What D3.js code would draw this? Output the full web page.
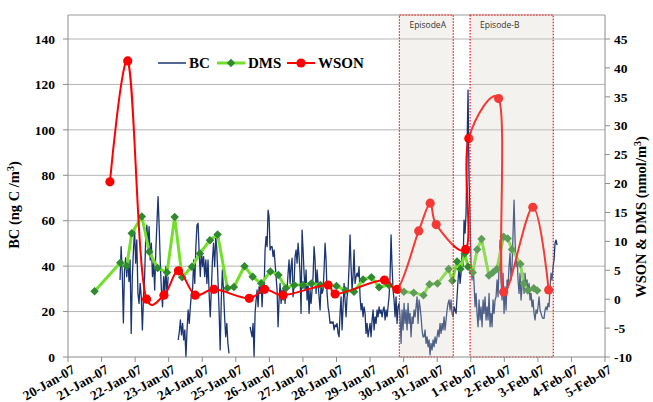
<!DOCTYPE html>
<html><head><meta charset="utf-8">
<script src="https://cdn.jsdelivr.net/npm/d3@7/dist/d3.min.js"></script>
<style>body{margin:0;background:#fff}svg{display:block}</style>
</head><body><svg id="c" width="653" height="402"></svg>
<script>
// ---------- DATA ----------
// time axis: hours since 20-Jan-07 00:00
const dateLabels = ["20-Jan-07","21-Jan-07","22-Jan-07","23-Jan-07","24-Jan-07","25-Jan-07","26-Jan-07","27-Jan-07","28-Jan-07","29-Jan-07","30-Jan-07","31-Jan-07","1-Feb-07","2-Feb-07","3-Feb-07","4-Feb-07","5-Feb-07"];
const leftTicks = [0,20,40,60,80,100,120,140];
const rightTicks = [-10,-5,0,5,10,15,20,25,30,35,40,45];
const seriesNames = ["BC","DMS","WSON"];

// BC (ng C/m3): segments with start hour, step (hours) and readings
const bcSeg1Start = 37.2, bcSeg1Step = 0.80;
const bcSeg1 = [33.9,48.6,37.0,15.0,38.3,43.6,35.4,44.2,33.2,42.7,10.4,35.4,47.1,55.9,41.3,51.5,28.0,23.6,32.4,26.5,11.9,26.5,35.4,53.0,58.1,48.6,57.4,42.7,50.1,35.4,41.3,29.5,47.1,58.9,70.6,57.4,41.3,29.5,22.1,35.4,28.0,39.8,26.5,35.4];
const bcSeg2Start = 78.8, bcSeg2Step = 0.79;
const bcSeg2 = [7.5,11.1,16.3,9.7,14.8,7.5,11.9,0.1,11.9,20.7,14.8,22.1,28.0,29.5,42.7,32.4,48.6,58.1,58.9,45.7,35.4,47.1,39.8,44.2,35.4,42.7,32.4,42.7,28.0,17.7,29.5,42.7,50.1,39.8,53.0,47.1,33.9,20.7,3.1,25.1,38.3,29.5,17.7,8.9,14.8,6.0,1.6];
const bcSeg3Start = 130.2, bcSeg3Step = 0.715;
const bcSeg3 = [
13.3,11.1,8.9,14.8,0.1,19.2,25.1,29.5,22.1,31.0,28.0,33.9,22.1,32.4,29.5,47.1,53.0,48.6,64.7,61.8,
47.1,48.6,48.6,44.2,47.1,41.3,35.4,29.5,13.3,25.1,32.4,23.6,29.5,25.1,32.4,23.6,31.0,29.5,36.9,42.7,
32.4,39.8,43.5,26.5,32.4,44.2,47.1,41.3,50.1,44.2,36.9,19.2,55.9,47.1,36.9,29.5,38.3,25.1,32.4,19.2,
29.5,23.6,29.5,35.4,48.6,42.7,28.0,38.3,32.4,26.5,20.7,32.4,28.0,29.5,38.3,50.1,42.7,28.0,22.1,19.2,
14.8,15.5,14.8,15.5,11.9,14.1,13.3,14.8,10.4,8.9,19.2,26.5,11.9,22.1,32.4,25.1,17.7,26.5,29.5,39.8,
53.7,39.8,29.5,35.4,47.1,32.4,35.4,36.9,35.4,39.8,26.5,20.7,23.6,17.7,22.1,19.2,10.4,14.8,8.9,11.9,
14.8,8.9,16.3,20.7,11.9,17.7,14.8,20.7,17.7,22.1,19.2,20.7,17.7,20.7,22.1,16.3,20.7,17.7,22.1,26.5,
35.4,53.7,39.8,29.5,25.1,17.7,26.5,14.8,22.1,23.6,17.7,6.0,20.7,11.9,23.6,14.8,20.7,11.9,23.6,14.8,
19.2,8.9,17.7,14.8,20.7,17.7,22.1,26.5,14.8,25.1,22.1,17.7,11.9,8.9,8.9,11.9,6.0,8.9,4.5,7.5,
0.9,6.0,3.1,7.5,4.5,8.9,6.0,8.9,11.9,8.9,14.8,10.4,14.8,11.9,17.7,11.9,16.3,20.7,23.6,25.1,
20.7,25.1,19.2,17.7,22.1,20.7,19.2,26.5,33.9,39.8,32.4,36.9,45.7,39.8,60.3,54.5,63.3,92.6,117.5,77.9,
63.3,41.3,33.9,39.8,32.4,22.1,28.0,19.2,13.3,25.1,16.3,22.1,13.3,25.1,19.2,26.5,16.3,22.1,16.3,28.0,
13.3,19.2,13.3,25.1,19.2,25.1,26.5,33.9,26.5,39.8,51.5,33.9,25.1,36.9,19.2,31.0,20.7,33.9,31.0,39.8,
45.7,33.9,39.8,54.5,69.1,51.5,39.8,45.7,33.9,28.0,36.9,25.1,31.0,36.9,28.0,36.9,31.0,33.9,28.0,32.4,
25.1,28.0,22.1,25.1,19.2,16.3,20.7,19.2,22.1,26.5,20.7,19.2,17.7,17.0,17.0,20.7,22.1,20.7,23.6,22.1,
31.0,36.9,33.9,39.8,42.7,50.1,51.5,49.3];

// DMS (nmol/m3)
const dmsHours = [19,37.4,42,45.6,52.8,58.1,64.1,70.8,76.3,81.6,88.6,94.3,101.5,107,114,118.6,126.2,132,138.2,144.7,150.5,155.8,161.8,168,174,180.5,192,198.5,204.5,211,217,222.5,229.4,240.2,247.2,254.2,258.5,264.2,272.2,274.8,278.2,280.6,283.7,286.1,289.4,292.6,295.7,301,303.8,306.7,311.5,314.4,317.5,323.5,325.9,328.8,333.1,335.5];
const dmsValues = [1.37,6.3,5.7,11.4,14.3,8.2,5.4,4.6,14.2,3.8,5.6,7.9,10.2,11.2,1.9,2.1,5.7,3.9,2.7,4.8,4.2,1.9,2.45,2.45,2.7,2.45,2.3,1.5,1.3,3.4,3.8,2.05,2.45,1.3,1.1,0.7,2.6,2.7,5.2,3.2,6.5,5.2,7.9,5.6,4.6,8.6,10.4,4.1,4.6,5.2,10.8,10.5,8.6,6.1,2.7,1.5,1.9,1.5];

// WSON (nmol/m3)
const wsonHours = [30,42.7,56.2,68.6,79,91,104.4,129.6,140.6,153.8,186,191,226.3,235.4,250.8,259,263.3,284.4,286.6,307.9,311.5,332.4,343.7];
const wsonValues = [20.3,41.2,0.0,0.7,4.9,0.7,1.7,0.15,1.7,0.7,2.45,0.9,3.3,1.7,11.8,16.6,12.9,8.6,27.8,34.7,1.24,15.9,1.6];

// Episodes (hours)
const episodeLabels = ["EpisodeA","Episode-B"];
const episodeStart = [237, 287.5];
const episodeEnd = [275.5, 347];

// ---------- CHART ----------
const svg = d3.select("#c");
const L = 68, R = 605, T = 15, B = 357;
const x = d3.scaleLinear().domain([0, 384]).range([L, R]);
const yL = d3.scaleLinear().domain([0, 140]).range([B, 39]);
const yR = d3.scaleLinear().domain([-10, 45]).range([B, 39]);
const serif = "'Liberation Serif','Times New Roman',serif";

// gridlines
svg.append("g").selectAll("line").data(leftTicks.slice(1)).join("line")
  .attr("x1", L).attr("x2", R).attr("y1", d => yL(d)).attr("y2", d => yL(d))
  .attr("stroke", "#b3b3b3").attr("stroke-width", 1);
// top border
svg.append("line").attr("x1", L).attr("x2", R).attr("y1", T).attr("y2", T)
  .attr("stroke", "#9a9a9a").attr("stroke-width", 1);

// BC
const bcSegs = [[bcSeg1Start,bcSeg1Step,bcSeg1],[bcSeg2Start,bcSeg2Step,bcSeg2],[bcSeg3Start,bcSeg3Step,bcSeg3]];
const bcLine = d3.line().x(d => x(d[0])).y(d => yL(d[1]));
bcSegs.forEach(([s, st, vals]) => {
  const pts = vals.map((v, i) => [s + i * st, v]);
  svg.append("path").attr("d", bcLine(pts)).attr("fill", "none")
    .attr("stroke", "#1b3572").attr("stroke-width", 1.3).attr("stroke-linejoin", "round");
});

// DMS
const dms = dmsHours.map((h, i) => [h, dmsValues[i]]);
svg.append("path").attr("d", d3.line().x(d => x(d[0])).y(d => yR(d[1]))(dms))
  .attr("fill", "none").attr("stroke", "#72e02a").attr("stroke-width", 3).attr("stroke-linejoin", "round");
const diamond = d3.symbol().type(d3.symbolSquare).size(36);
svg.append("g").selectAll("path").data(dms).join("path")
  .attr("d", diamond).attr("transform", d => `translate(${x(d[0])},${yR(d[1])}) rotate(45)`)
  .attr("fill", "#2f8a2f");

// WSON
const wson = wsonHours.map((h, i) => [h, wsonValues[i]]);
svg.append("path").attr("d", d3.line().curve(d3.curveCatmullRom.alpha(0.25)).x(d => x(d[0])).y(d => yR(d[1]))(wson))
  .attr("fill", "none").attr("stroke", "#ff0000").attr("stroke-width", 2);
svg.append("g").selectAll("circle").data(wson).join("circle")
  .attr("cx", d => x(d[0])).attr("cy", d => yR(d[1])).attr("r", 4.6).attr("fill", "#ff0000");

// Episode overlays
episodeLabels.forEach((lab, i) => {
  const x0 = x(episodeStart[i]), x1 = x(episodeEnd[i]);
  svg.append("rect").attr("x", x0).attr("y", T).attr("width", x1 - x0).attr("height", B - T)
    .attr("fill", "rgb(214,208,194)").attr("fill-opacity", 0.28);
  svg.append("rect").attr("x", x0).attr("y", T).attr("width", x1 - x0).attr("height", B - T)
    .attr("fill", "none").attr("stroke", "#ff1010").attr("stroke-width", 1.2).attr("stroke-dasharray", "1.5,1.5");
  svg.append("text").attr("x", x0 + 10).attr("y", T + 12.5).text(lab)
    .attr("font-family", "'Open Sans','Liberation Sans',sans-serif").attr("font-size", 8.5).attr("fill", "#333");
});

// axes lines
svg.append("line").attr("x1", L).attr("x2", L).attr("y1", T).attr("y2", B).attr("stroke", "#8c8c8c");
svg.append("line").attr("x1", R).attr("x2", R).attr("y1", T).attr("y2", B).attr("stroke", "#8c8c8c");
svg.append("line").attr("x1", L).attr("x2", R).attr("y1", B).attr("y2", B).attr("stroke", "#8c8c8c");

// left ticks
const gl = svg.append("g");
gl.selectAll("line").data(leftTicks).join("line")
  .attr("x1", L - 5).attr("x2", L).attr("y1", d => yL(d)).attr("y2", d => yL(d)).attr("stroke", "#8c8c8c");
gl.selectAll("text").data(leftTicks).join("text")
  .attr("x", 55).attr("y", d => yL(d)).attr("dy", "0.35em").attr("text-anchor", "end")
  .attr("font-family", serif).attr("font-weight", "bold").attr("font-size", 13.5).text(d => d);

// right ticks
const gr = svg.append("g");
gr.selectAll("line").data(rightTicks).join("line")
  .attr("x1", R).attr("x2", R + 5).attr("y1", d => yR(d)).attr("y2", d => yR(d)).attr("stroke", "#8c8c8c");
gr.selectAll("text").data(rightTicks).join("text")
  .attr("x", 614).attr("y", d => yR(d)).attr("dy", "0.35em").attr("text-anchor", "start")
  .attr("font-family", serif).attr("font-weight", "bold").attr("font-size", 13.5).text(d => d);

// x ticks
const gx = svg.append("g");
gx.selectAll("line").data(dateLabels).join("line")
  .attr("x1", (d, i) => x(i * 24)).attr("x2", (d, i) => x(i * 24))
  .attr("y1", B).attr("y2", B + 5).attr("stroke", "#8c8c8c");
gx.selectAll("text").data(dateLabels).join("text")
  .attr("transform", (d, i) => `translate(${x(i * 24) + 3},${B + 7}) rotate(-30)`)
  .attr("text-anchor", "end").attr("dy", "0.7em")
  .attr("font-family", serif).attr("font-weight", "bold").attr("font-size", 13.5).text(d => d);

// axis titles
const tl = svg.append("text").attr("transform", "translate(19,205) rotate(-90)")
  .attr("text-anchor", "middle").attr("font-family", serif).attr("font-weight", "bold").attr("font-size", 14.5);
tl.append("tspan").text("BC (ng C /m");
tl.append("tspan").attr("dy", -5).attr("font-size", 10).text("3");
tl.append("tspan").attr("dy", 5).text(")");
const tr = svg.append("text").attr("transform", "translate(646,217) rotate(-90)")
  .attr("text-anchor", "middle").attr("font-family", serif).attr("font-weight", "bold").attr("font-size", 14.5);
tr.append("tspan").text("WSON  & DMS (nmol/m");
tr.append("tspan").attr("dy", -5).attr("font-size", 10).text("3");
tr.append("tspan").attr("dy", 5).text(")");

// legend
const lg = svg.append("g").attr("font-family", serif).attr("font-weight", "bold").attr("font-size", 15);
const legX = [158, 217, 287];
const legY = 63;
lg.append("line").attr("x1", legX[0]).attr("x2", legX[0] + 28).attr("y1", legY).attr("y2", legY)
  .attr("stroke", "#1b3572").attr("stroke-width", 1.5);
lg.append("text").attr("x", legX[0] + 31).attr("y", legY).attr("dy", "0.35em").text(seriesNames[0]);
lg.append("line").attr("x1", legX[1]).attr("x2", legX[1] + 28).attr("y1", legY).attr("y2", legY)
  .attr("stroke", "#72e02a").attr("stroke-width", 3);
lg.append("path").attr("d", diamond).attr("transform", `translate(${legX[1] + 14},${legY}) rotate(45)`).attr("fill", "#2f8a2f");
lg.append("text").attr("x", legX[1] + 31).attr("y", legY).attr("dy", "0.35em").text(seriesNames[1]);
lg.append("line").attr("x1", legX[2]).attr("x2", legX[2] + 28).attr("y1", legY).attr("y2", legY)
  .attr("stroke", "#ff0000").attr("stroke-width", 2);
lg.append("circle").attr("cx", legX[2] + 14).attr("cy", legY).attr("r", 4.6).attr("fill", "#ff0000");
lg.append("text").attr("x", legX[2] + 31).attr("y", legY).attr("dy", "0.35em").text(seriesNames[2]);
</script></body></html>
